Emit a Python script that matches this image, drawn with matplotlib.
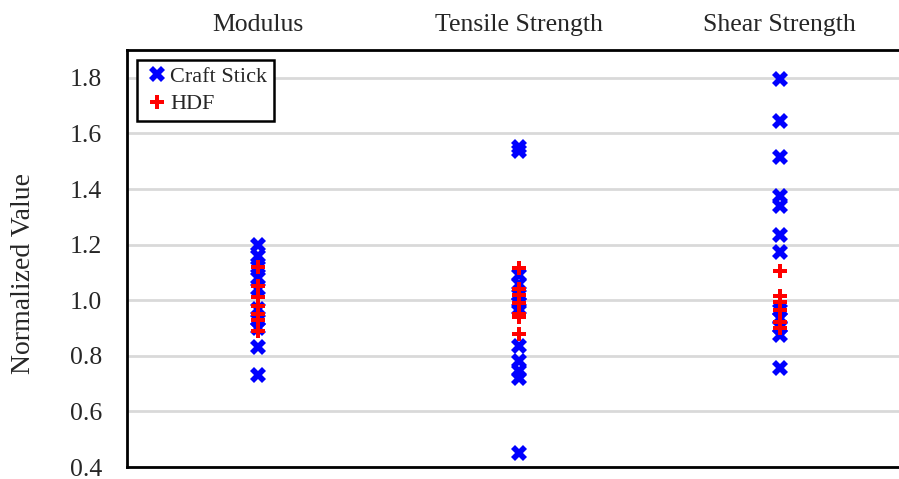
import matplotlib
matplotlib.use("Agg")
import matplotlib.pyplot as plt

categories = ["Modulus", "Tensile Strength", "Shear Strength"]

craft_modulus = [1.20, 1.16, 1.12, 1.08, 1.04, 0.97, 0.93, 0.90, 0.83, 0.73]
craft_tensile = [1.55, 1.535, 1.09, 1.06, 1.02, 0.99, 0.97, 0.835, 0.78, 0.745, 0.72, 0.45]
craft_shear = [1.795, 1.645, 1.515, 1.375, 1.34, 1.235, 1.175, 0.965, 0.935, 0.905, 0.875, 0.755]

hdf_modulus = [1.12, 1.05, 1.01, 0.98, 0.95, 0.93, 0.89]
hdf_tensile = [1.115, 1.04, 1.02, 0.99, 0.95, 0.94, 0.88]
hdf_shear = [1.105, 1.015, 0.995, 0.965, 0.92, 0.90]

craft = [craft_modulus, craft_tensile, craft_shear]
hdf = [hdf_modulus, hdf_tensile, hdf_shear]

yticks = [0.4, 0.6, 0.8, 1.0, 1.2, 1.4, 1.6, 1.8]

plt.rcParams['font.family'] = ['Liberation Serif', 'DejaVu Serif']

W, H = 899, 479
fig = plt.figure(figsize=(W / 100, H / 100), dpi=100)
left, right, top, bottom = 127, 910, 50, 467
ax = fig.add_axes([left / W, 1 - bottom / H, (right - left) / W, (bottom - top) / H])

for i, vals in enumerate(craft):
    ax.plot([i] * len(vals), vals, linestyle='none', marker='X', markersize=12,
            color='#0000ff', markeredgewidth=0,
            label='Craft Stick' if i == 0 else None, zorder=3)
for i, vals in enumerate(hdf):
    ax.plot([i] * len(vals), vals, linestyle='none', marker='P', markersize=10.5,
            color='#ff0000', markeredgewidth=0,
            label='HDF' if i == 0 else None, zorder=4)

ax.set_xlim(-0.5, 2.5)
ax.set_ylim(0.4, 1.9)
ax.set_yticks(yticks)
ax.set_yticklabels([f"{t:.1f}" for t in yticks], fontsize=18.5, color='#262626')
ax.set_xticks(range(len(categories)))
ax.set_xticklabels(categories, fontsize=18.5, color='#262626')
ax.xaxis.tick_top()
ax.tick_params(axis='x', length=0, pad=10)
ax.tick_params(axis='y', length=0, pad=18)
ax.set_ylabel("Normalized Value", fontsize=20, color='#262626', labelpad=24)
ax.yaxis.label.set_y(0.465)

ax.grid(axis='y', color='#d9d9d9', linewidth=2)
ax.set_axisbelow(True)
for s in ax.spines.values():
    s.set_linewidth(2)
    s.set_color('black')

leg = ax.legend(loc='upper left', bbox_to_anchor=(137 / W, 1 - 60 / H),
                bbox_transform=fig.transFigure, borderaxespad=0,
                fontsize=16, frameon=True, fancybox=False, framealpha=1,
                edgecolor='black', handletextpad=0.0, handlelength=1.2,
                borderpad=0.3, labelspacing=0.3)
leg.get_frame().set_linewidth(1.8)
for t in leg.get_texts():
    t.set_color('#262626')

fig.savefig("out.png", dpi=100)
